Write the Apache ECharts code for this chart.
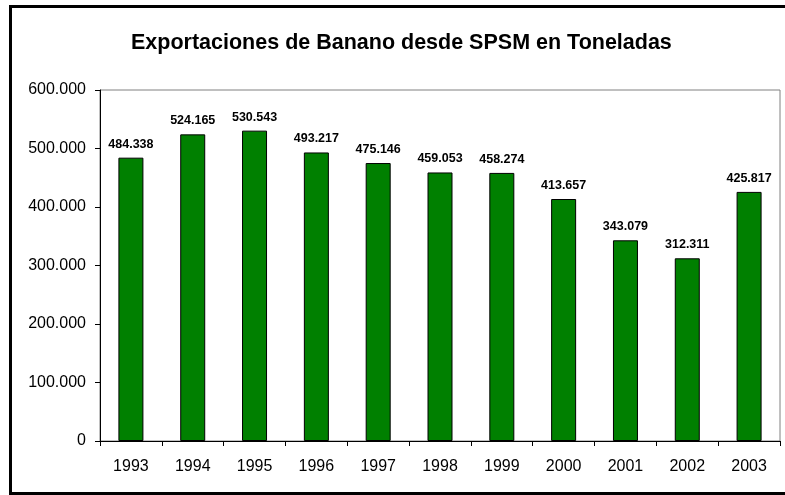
<!DOCTYPE html>
<html>
<head>
<meta charset="utf-8">
<script src="https://cdn.jsdelivr.net/npm/echarts@6/dist/echarts.min.js"></script>
<style>
  html, body { margin: 0; padding: 0; background: #fff; }
  #chart { width: 785px; height: 495px; }
</style>
</head>
<body>
<div id="chart"></div>
<script>
// datos
var years = ['1993', '1994', '1995', '1996', '1997', '1998', '1999', '2000', '2001', '2002', '2003'];
var toneladas = [484338, 524165, 530543, 493217, 475146, 459053, 458274, 413657, 343079, 312311, 425817];
var yMin = 0, yMax = 600000, yStep = 100000;

var FONT = '"Liberation Sans", Arial, sans-serif';

// separador de miles con punto
function fmt(v) {
  return String(Math.round(v)).replace(/\B(?=(\d{3})+(?!\d))/g, '.');
}

var chart = echarts.init(document.getElementById('chart'));
chart.setOption({
  animation: false,
  backgroundColor: '#fff',
  title: {
    text: 'Exportaciones de Banano desde SPSM en Toneladas',
    left: 131,
    top: 32,
    padding: 0,
    textStyle: { color: '#000', fontSize: 21.5, fontWeight: 'bold', fontFamily: FONT }
  },
  graphic: [{
    type: 'rect',
    shape: { x: 10.5, y: 6.5, width: 800, height: 487 },
    style: { fill: 'none', stroke: '#000', lineWidth: 3 },
    z: 100
  }],
  grid: {
    left: 100, top: 90, right: 5, bottom: 54,
    show: true, borderColor: '#808080', borderWidth: 1, backgroundColor: '#fff'
  },
  xAxis: {
    type: 'category',
    data: years,
    axisLine: { lineStyle: { color: '#000', width: 1 } },
    axisTick: { show: true, alignWithLabel: false, length: 5, lineStyle: { color: '#000' } },
    axisLabel: { color: '#000', fontSize: 16, fontFamily: FONT, margin: 18 }
  },
  yAxis: {
    type: 'value',
    min: yMin, max: yMax, interval: yStep,
    axisLine: { show: true, lineStyle: { color: '#000', width: 1 } },
    axisTick: { show: true, length: 5, lineStyle: { color: '#000' } },
    splitLine: { show: false },
    axisLabel: { color: '#000', fontSize: 16, fontFamily: FONT, margin: 14, formatter: fmt }
  },
  series: [{
    type: 'bar',
    data: toneladas,
    barWidth: 25,
    itemStyle: { color: '#008000', borderColor: '#000', borderWidth: 1 },
    label: {
      show: true,
      position: 'top',
      distance: 7,
      color: '#000',
      fontSize: 12.5,
      fontWeight: 'bold',
      fontFamily: FONT,
      formatter: function (p) { return fmt(p.value); }
    }
  }]
});
</script>
</body>
</html>
